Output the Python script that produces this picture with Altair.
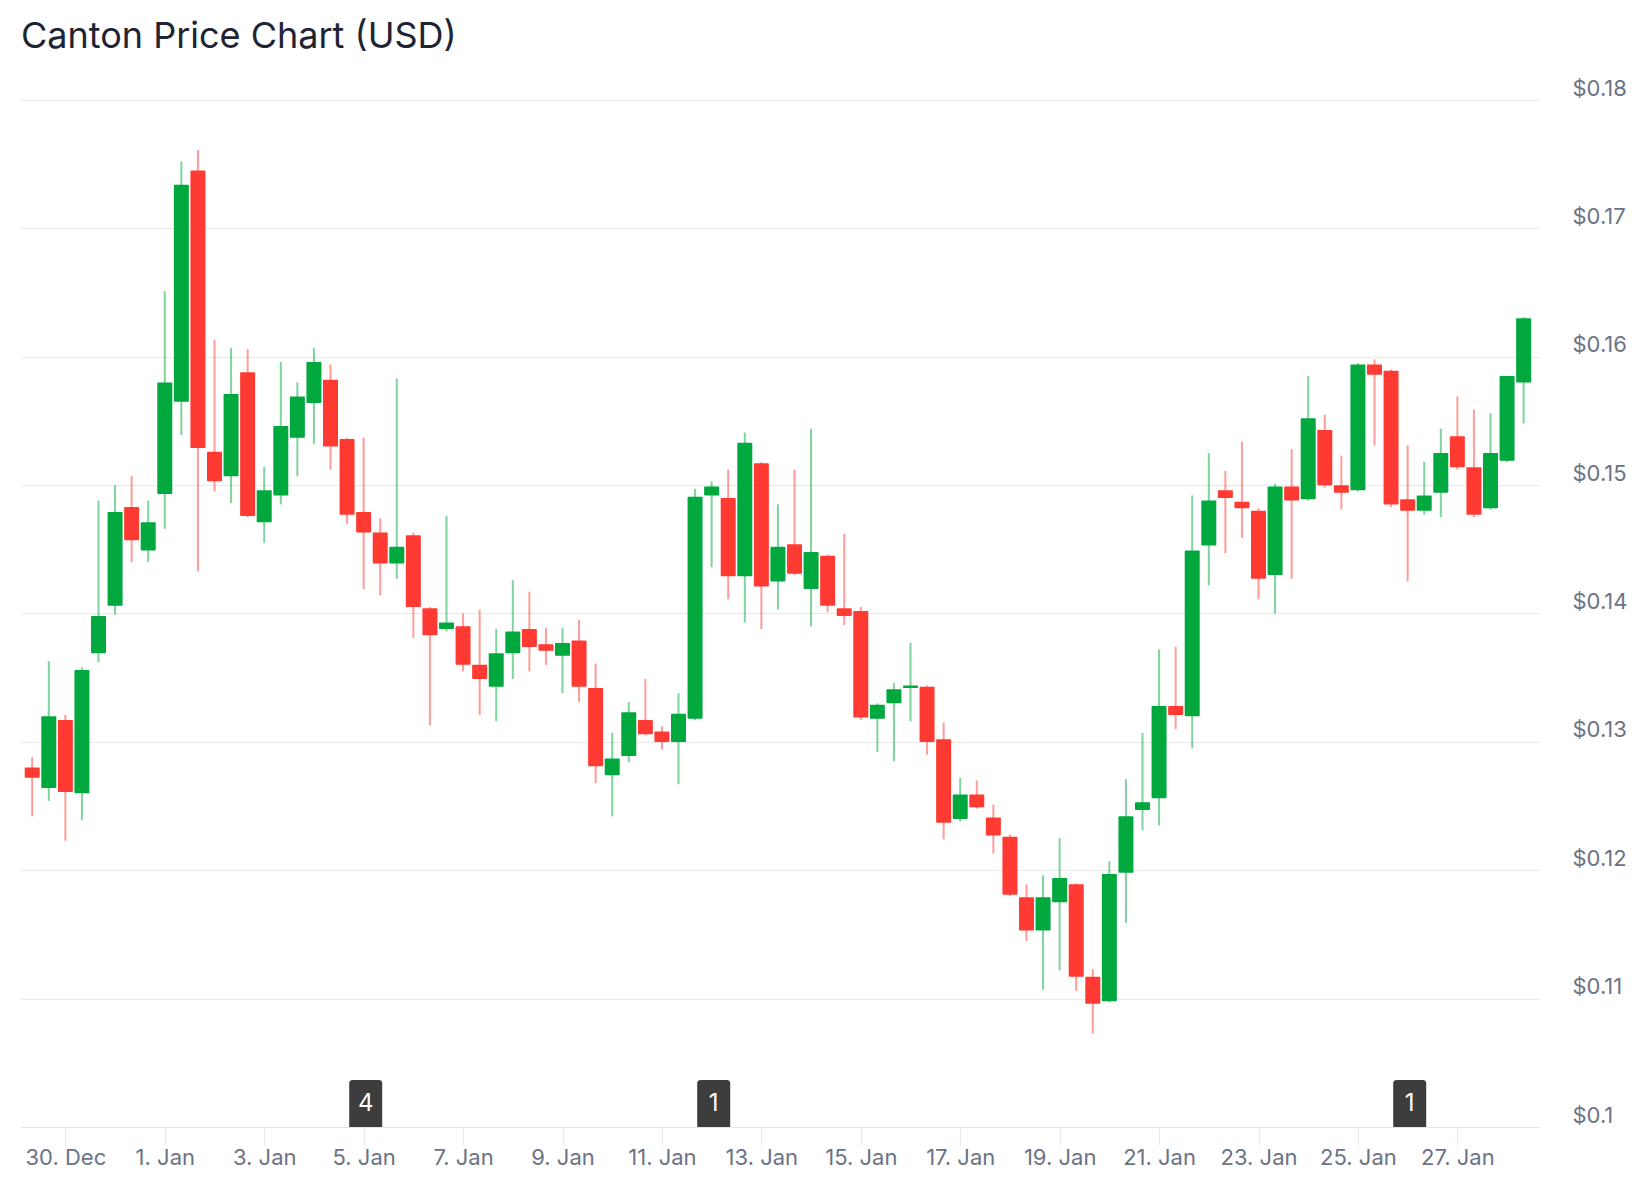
import altair as alt
import pandas as pd

TITLE = "Canton Price Chart (USD)"

# 8-hour candles, first one at 29 Dec 08:00 UTC
start_time = "2025-12-29T08:00:00Z"
n_candles = 91

open_ = [0.1280, 0.1264, 0.1317, 0.1260, 0.1369, 0.1406, 0.1483, 0.1449, 0.1493, 0.1565,
         0.1745, 0.1526, 0.1507, 0.1588, 0.1471, 0.1492, 0.1537, 0.1564, 0.1582, 0.1536,
         0.1479, 0.1463, 0.1439, 0.1461, 0.1404, 0.1388, 0.1390, 0.1360, 0.1343, 0.1369,
         0.1388, 0.1376, 0.1367, 0.1379, 0.1342, 0.1274, 0.1289, 0.1317, 0.1308, 0.1300,
         0.1318, 0.1492, 0.1490, 0.1429, 0.1517, 0.1425, 0.1454, 0.1419, 0.1445, 0.1404,
         0.1402, 0.1318, 0.1330, 0.1342, 0.1343, 0.1302, 0.1240, 0.1259, 0.1241, 0.1226,
         0.1179, 0.1153, 0.1175, 0.1189, 0.1117, 0.1098, 0.1198, 0.1247, 0.1256, 0.1328,
         0.1320, 0.1453, 0.1496, 0.1487, 0.1480, 0.1430, 0.1499, 0.1489, 0.1543, 0.1500,
         0.1496, 0.1594, 0.1589, 0.1489, 0.1480, 0.1494, 0.1538, 0.1514, 0.1482, 0.1519,
         0.1580]
high = [0.1288, 0.1363, 0.1321, 0.1358, 0.1488, 0.1500, 0.1507, 0.1488, 0.1651, 0.1752,
        0.1761, 0.1613, 0.1607, 0.1606, 0.1514, 0.1596, 0.1580, 0.1607, 0.1594, 0.1537,
        0.1537, 0.1474, 0.1583, 0.1463, 0.1405, 0.1476, 0.1400, 0.1403, 0.1388, 0.1426,
        0.1417, 0.1389, 0.1389, 0.1395, 0.1361, 0.1307, 0.1331, 0.1349, 0.1312, 0.1338,
        0.1497, 0.1503, 0.1512, 0.1541, 0.1518, 0.1485, 0.1512, 0.1544, 0.1446, 0.1462,
        0.1405, 0.1330, 0.1346, 0.1377, 0.1344, 0.1315, 0.1272, 0.1270, 0.1251, 0.1228,
        0.1189, 0.1196, 0.1225, 0.1190, 0.1123, 0.1207, 0.1271, 0.1307, 0.1372, 0.1374,
        0.1492, 0.1525, 0.1511, 0.1534, 0.1482, 0.1501, 0.1528, 0.1585, 0.1555, 0.1523,
        0.1595, 0.1598, 0.1590, 0.1531, 0.1518, 0.1544, 0.1569, 0.1559, 0.1556, 0.1585,
        0.1631]
low = [0.1242, 0.1254, 0.1223, 0.1239, 0.1362, 0.1399, 0.1440, 0.1440, 0.1466, 0.1539,
       0.1433, 0.1495, 0.1486, 0.1475, 0.1455, 0.1485, 0.1507, 0.1532, 0.1512, 0.1470,
       0.1419, 0.1414, 0.1427, 0.1381, 0.1313, 0.1386, 0.1355, 0.1321, 0.1316, 0.1349,
       0.1355, 0.1360, 0.1338, 0.1331, 0.1268, 0.1242, 0.1284, 0.1305, 0.1294, 0.1267,
       0.1317, 0.1436, 0.1411, 0.1393, 0.1388, 0.1403, 0.1430, 0.1390, 0.1401, 0.1391,
       0.1317, 0.1292, 0.1285, 0.1316, 0.1290, 0.1224, 0.1238, 0.1248, 0.1213, 0.1180,
       0.1145, 0.1107, 0.1122, 0.1106, 0.1073, 0.1097, 0.1159, 0.1231, 0.1235, 0.1310,
       0.1295, 0.1422, 0.1447, 0.1459, 0.1411, 0.1400, 0.1427, 0.1488, 0.1498, 0.1481,
       0.1495, 0.1531, 0.1483, 0.1425, 0.1477, 0.1475, 0.1512, 0.1475, 0.1481, 0.1518,
       0.1548]
close = [0.1272, 0.1320, 0.1261, 0.1356, 0.1398, 0.1479, 0.1457, 0.1471, 0.1580, 0.1734,
         0.1529, 0.1503, 0.1571, 0.1476, 0.1496, 0.1546, 0.1569, 0.1596, 0.1530, 0.1477,
         0.1463, 0.1439, 0.1452, 0.1405, 0.1383, 0.1393, 0.1360, 0.1349, 0.1369, 0.1386,
         0.1374, 0.1371, 0.1377, 0.1343, 0.1281, 0.1287, 0.1323, 0.1306, 0.1300, 0.1322,
         0.1491, 0.1499, 0.1429, 0.1533, 0.1421, 0.1452, 0.1431, 0.1448, 0.1406, 0.1398,
         0.1319, 0.1329, 0.1341, 0.1344, 0.1300, 0.1237, 0.1259, 0.1249, 0.1227, 0.1181,
         0.1153, 0.1179, 0.1194, 0.1117, 0.1096, 0.1197, 0.1242, 0.1253, 0.1328, 0.1321,
         0.1449, 0.1488, 0.1490, 0.1482, 0.1427, 0.1499, 0.1488, 0.1552, 0.1500, 0.1494,
         0.1594, 0.1586, 0.1485, 0.1480, 0.1492, 0.1525, 0.1514, 0.1477, 0.1525, 0.1585,
         0.1630]

flag_times = ["2026-01-05T01:00:00Z", "2026-01-12T01:00:00Z", "2026-01-26T01:00:00Z"]
flag_counts = [4, 1, 1]

x_tick_dates = ["2025-12-30", "2026-01-01", "2026-01-03", "2026-01-05", "2026-01-07",
                "2026-01-09", "2026-01-11", "2026-01-13", "2026-01-15", "2026-01-17",
                "2026-01-19", "2026-01-21", "2026-01-23", "2026-01-25", "2026-01-27"]
y_ticks = [0.10, 0.11, 0.12, 0.13, 0.14, 0.15, 0.16, 0.17, 0.18]

GREEN = "#00a83e"
RED = "#ff3a33"
LABEL = "#6b7385"
GRID = "#e9e9e9"
FONT = "Inter"


def ms(ts):
    t = pd.Timestamp(ts)
    if t.tzinfo is not None:
        t = t.tz_convert("UTC").tz_localize(None)
    return int(t.value // 10**6)


times = pd.date_range(pd.Timestamp(start_time), periods=n_candles, freq="8h")
time_ms = [ms(t) for t in times]
df = pd.DataFrame({"t": time_ms, "open": open_, "high": high, "low": low, "close": close})
hour = 3600 * 1000
x_domain = [time_ms[0] - 3 * hour, time_ms[-1] + 5 * hour]
tick_ms = [ms(d) for d in x_tick_dates]

flags = pd.DataFrame({"t": [ms(t) for t in flag_times], "n": flag_counts})

xscale = alt.Scale(type="utc", domain=x_domain, nice=False)
yscale = alt.Scale(domain=[0.10, 0.18], nice=False, zero=False)

xaxis = alt.Axis(values=tick_ms, labelExpr="utcFormat(datum.value, '%-d. %b')",
                 title=None, grid=False, domain=True, domainColor="#e3e3e3", domainWidth=1,
                 ticks=True, tickColor="#e8e8e8", tickSize=18, tickWidth=1,
                 labelFontSize=22, labelColor=LABEL, labelFont=FONT, labelPadding=2,
                 labelAlign="center", labelFlush=False, labelOverlap=False)
yaxis = alt.Axis(orient="right", values=y_ticks, labelExpr="'$' + format(datum.value, '.2~f')",
                 title=None, grid=True, gridColor=GRID, gridWidth=1, domain=False, ticks=False,
                 labelFontSize=22, labelColor=LABEL, labelFont=FONT, labelPadding=33,
                 labelAlign="left", labelBaseline="alphabetic", labelOffset=-5)

color = alt.condition("datum.close >= datum.open", alt.value(GREEN), alt.value(RED))

base = alt.Chart(df).encode(x=alt.X("t:T", scale=xscale, axis=xaxis))

wicks = base.mark_rule(strokeWidth=2, opacity=0.5).encode(
    y=alt.Y("low:Q", scale=yscale, axis=yaxis),
    y2="high:Q",
    color=color,
)
bodies = base.mark_bar(size=15, cornerRadius=1).encode(
    y=alt.Y("open:Q", scale=yscale),
    y2="close:Q",
    color=color,
)

flag_base = alt.Chart(flags).encode(x=alt.X("t:T", scale=xscale))
flag_boxes = flag_base.mark_bar(orient="vertical", size=33, color="#3d3d3d",
                                cornerRadiusTopLeft=3, cornerRadiusTopRight=3).encode(
    y=alt.value(980), y2=alt.value(1027))
flag_text = flag_base.mark_text(color="white", fontSize=24, font=FONT, baseline="middle").encode(
    y=alt.value(1004), text="n:Q")

title_mark = alt.Chart(pd.DataFrame({"title": [TITLE]})).mark_text(
    align="left", baseline="alphabetic", fontSize=36, font=FONT, fontWeight="normal",
    color="#1e2433").encode(x=alt.value(0), y=alt.value(-52), text="title:N")

chart = alt.layer(wicks, bodies, flag_boxes, flag_text, title_mark).properties(
    width=1518, height=1027,
    autosize=alt.AutoSizeParams(type="none"),
    padding={"left": 21, "top": 100, "right": 105, "bottom": 73},
    background="white",
).configure_view(stroke=None)

chart.save("out.html", embed_options={"renderer": "svg", "actions": False})
